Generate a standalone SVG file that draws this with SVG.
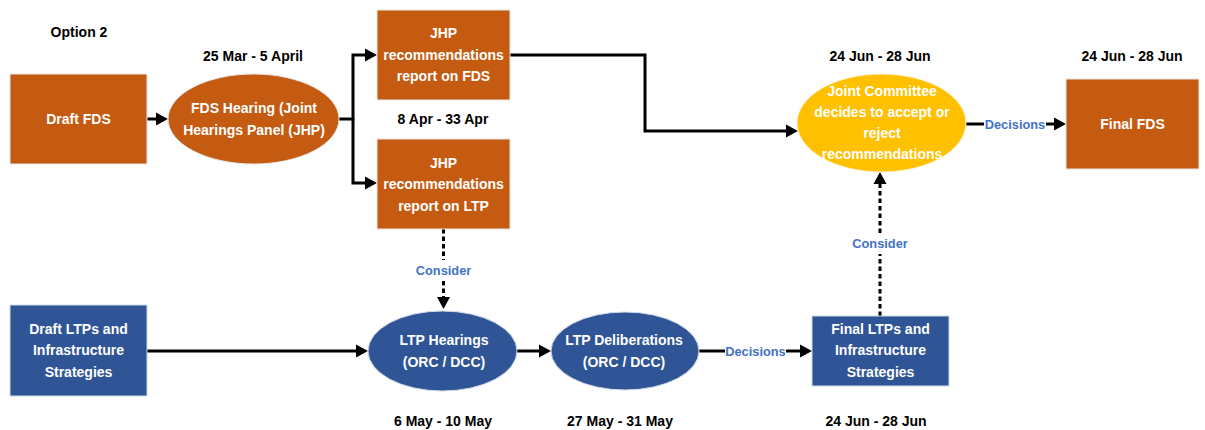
<svg xmlns="http://www.w3.org/2000/svg" width="1205" height="430" viewBox="0 0 1205 430">
<style>
text{font-family:"Liberation Sans",Arial,sans-serif;font-weight:bold;text-anchor:middle}
.lbl{font-size:14px;fill:#000}
.nt{font-size:14px;fill:#fff}
.ct{font-size:12.8px;fill:#4472C4}
.org{fill:#C55A11;stroke:#e6e6e6;stroke-width:1}
.blu{fill:#2F5597;stroke:#d0d8e8;stroke-width:1}
.yel{fill:#FFC000;stroke:#fff2cc;stroke-width:1}
.ln{fill:none;stroke:#000;stroke-width:3}
.ds{fill:none;stroke:#000;stroke-width:3;stroke-dasharray:4.5 3}
</style>
<defs>
<marker id="ah" markerUnits="userSpaceOnUse" markerWidth="13" markerHeight="14" refX="0" refY="6.5" orient="auto" overflow="visible">
<path d="M0,0 L12,6.5 L0,13 z" fill="#000"/>
</marker>
</defs>
<g id="labels">
<text class="lbl" x="79" y="37">Option 2</text>
<text class="lbl" x="253" y="61">25 Mar - 5 April</text>
<text class="lbl" x="443" y="124">8 Apr - 33 Apr</text>
<text class="lbl" x="880" y="61">24 Jun - 28 Jun</text>
<text class="lbl" x="1132" y="61">24 Jun - 28 Jun</text>
<text class="lbl" x="443" y="426">6 May - 10 May</text>
<text class="lbl" x="620" y="426">27 May - 31 May</text>
<text class="lbl" x="876" y="426">24 Jun - 28 Jun</text>
</g>
<g id="connectors">
<path class="ln" d="M147,119 H156" marker-end="url(#ah)"/>
<path class="ln" d="M339,119 H353 V55 H365" marker-end="url(#ah)"/>
<path class="ln" d="M353,119 V183 H365" marker-end="url(#ah)"/>
<path class="ln" d="M510,55 H645 V131 H786" marker-end="url(#ah)"/>
<path class="ds" d="M443.5,229 V260"/>
<path class="ds" d="M443.5,281 V297" marker-end="url(#ah)"/>
<text class="ct" x="443.5" y="275">Consider</text>
<path class="ln" d="M147,351 H356" marker-end="url(#ah)"/>
<path class="ln" d="M517,351 H539" marker-end="url(#ah)"/>
<path class="ln" d="M699,351 H725"/>
<text class="ct" x="755.5" y="356">Decisions</text>
<path class="ln" d="M786,351 H800" marker-end="url(#ah)"/>
<path class="ds" d="M880,316 V254"/>
<path class="ds" d="M880,233 V184" marker-end="url(#ah)"/>
<text class="ct" x="880" y="248">Consider</text>
<path class="ln" d="M966,124 H984"/>
<text class="ct" x="1015" y="129">Decisions</text>
<path class="ln" d="M1046,124 H1054" marker-end="url(#ah)"/>
</g>
<g id="draft-fds">
<rect class="org" x="10" y="74" width="137" height="90"/>
<text class="nt" x="78.5" y="124">Draft FDS</text>
</g>
<g id="fds-hearing">
<ellipse class="org" cx="253.5" cy="119" rx="85.5" ry="45"/>
<text class="nt" x="254" y="113">FDS Hearing (Joint</text>
<text class="nt" x="254" y="135">Hearings Panel (JHP)</text>
</g>
<g id="jhp-fds">
<rect class="org" x="377" y="10" width="133" height="90"/>
<text class="nt" x="443.5" y="38">JHP</text>
<text class="nt" x="443.5" y="60">recommendations</text>
<text class="nt" x="443.5" y="81">report on FDS</text>
</g>
<g id="jhp-ltp">
<rect class="org" x="377" y="139" width="133" height="90"/>
<text class="nt" x="443.5" y="168">JHP</text>
<text class="nt" x="443.5" y="189">recommendations</text>
<text class="nt" x="443.5" y="211">report on LTP</text>
</g>
<g id="joint-committee">
<ellipse class="yel" cx="881.5" cy="123" rx="84.5" ry="49"/>
<text class="nt" x="882" y="96">Joint Committee</text>
<text class="nt" x="882" y="117">decides to accept or</text>
<text class="nt" x="882" y="138">reject</text>
<text class="nt" x="882" y="159">recommendations</text>
</g>
<g id="final-fds">
<rect class="org" x="1066" y="79" width="133" height="90"/>
<text class="nt" x="1132.5" y="129">Final FDS</text>
</g>
<g id="draft-ltps">
<rect class="blu" x="10" y="305" width="137" height="91"/>
<text class="nt" x="78.5" y="334">Draft LTPs and</text>
<text class="nt" x="78.5" y="355">Infrastructure</text>
<text class="nt" x="78.5" y="377">Strategies</text>
</g>
<g id="ltp-hearings">
<ellipse class="blu" cx="442.5" cy="351" rx="74.5" ry="40"/>
<text class="nt" x="444" y="345">LTP Hearings</text>
<text class="nt" x="444" y="367">(ORC / DCC)</text>
</g>
<g id="ltp-deliberations">
<ellipse class="blu" cx="625" cy="351" rx="74" ry="39"/>
<text class="nt" x="624" y="345">LTP Deliberations</text>
<text class="nt" x="624" y="367">(ORC / DCC)</text>
</g>
<g id="final-ltps">
<rect class="blu" x="812" y="316" width="137" height="70"/>
<text class="nt" x="880.5" y="334">Final LTPs and</text>
<text class="nt" x="880.5" y="355">Infrastructure</text>
<text class="nt" x="880.5" y="377">Strategies</text>
</g>
</svg>
